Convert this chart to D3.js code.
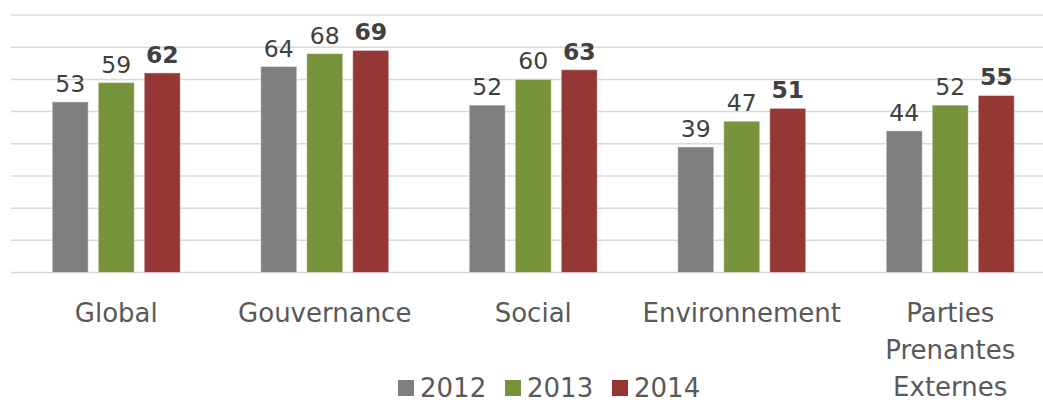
<!DOCTYPE html>
<html>
<head>
<meta charset="utf-8">
<script src="https://cdnjs.cloudflare.com/ajax/libs/d3/7.8.5/d3.min.js"></script>
<style>
  body { margin: 0; background: #fff; }
  svg { display: block; }
</style>
</head>
<body>
<script>
// data
var categories = ['Global', 'Gouvernance', 'Social', 'Environnement', 'Parties Prenantes Externes'];
var years = ['2012', '2013', '2014'];
var values2012 = [53, 64, 52, 39, 44];
var values2013 = [59, 68, 60, 47, 52];
var values2014 = [62, 69, 63, 51, 55];
var yTicks = [0, 10, 20, 30, 40, 50, 60, 70, 80];
var colors = ['#7f7f7f', '#77933c', '#953735'];

var width = 1043, height = 403;
var series = [values2012, values2013, values2014];

var svg = d3.select('body').append('svg')
    .attr('width', width)
    .attr('height', height);

var xScale = d3.scaleBand()
    .domain(categories)
    .range([12, 1054.5])
    .paddingInner(0)
    .paddingOuter(0);

var yScale = d3.scaleLinear()
    .domain([0, 80])
    .range([272.5, 15]);

// inner band for the 3 bars of a group
var barW = 36, barGap = 10;
var groupW = 3 * barW + 2 * barGap;
var xInner = d3.scaleBand()
    .domain(years)
    .range([0, groupW])
    .paddingInner(barGap / (barW + barGap))
    .paddingOuter(0);

// gridlines
svg.append('g')
    .selectAll('line')
    .data(yTicks)
    .enter().append('line')
    .attr('x1', 11)
    .attr('x2', width)
    .attr('y1', function (d) { return yScale(d); })
    .attr('y2', function (d) { return yScale(d); })
    .attr('stroke', '#d9d9d9')
    .attr('stroke-width', 1.5);

var groups = svg.append('g')
    .selectAll('g')
    .data(categories)
    .enter().append('g')
    .attr('transform', function (d) {
        return 'translate(' + (xScale(d) + (xScale.bandwidth() - groupW) / 2) + ',0)';
    });

groups.selectAll('rect')
    .data(function (d, i) {
        return years.map(function (y, j) { return { year: y, v: series[j][i], j: j }; });
    })
    .enter().append('rect')
    .attr('x', function (d) { return xInner(d.year); })
    .attr('width', xInner.bandwidth())
    .attr('y', function (d) { return yScale(d.v); })
    .attr('height', function (d) { return yScale(0) - yScale(d.v); })
    .attr('fill', function (d) { return colors[d.j]; })
    .attr('stroke', 'rgba(255,255,255,0.45)')
    .attr('stroke-width', 1);

groups.selectAll('text.val')
    .data(function (d, i) {
        return years.map(function (y, j) { return { year: y, v: series[j][i], j: j }; });
    })
    .enter().append('text')
    .attr('class', 'val')
    .attr('x', function (d) { return xInner(d.year) + xInner.bandwidth() / 2; })
    .attr('y', function (d) { return yScale(d.v) - 10; })
    .attr('text-anchor', 'middle')
    .style('font-family', 'DejaVu Sans')
    .style('font-size', '23.5px')
    .style('font-weight', function (d) { return d.j === 2 ? 'bold' : 'normal'; })
    .style('fill', '#404040')
    .text(function (d) { return d.v; });

// category labels
var catLabels = svg.append('g')
    .selectAll('text')
    .data(categories)
    .enter().append('text')
    .attr('x', function (d) { return xScale(d) + xScale.bandwidth() / 2; })
    .attr('y', 322)
    .attr('text-anchor', 'middle')
    .style('font-family', 'DejaVu Sans')
    .style('font-size', '26px')
    .style('fill', '#595959');

catLabels.each(function (d) {
    var words = d === 'Parties Prenantes Externes' ? d.split(' ') : [d];
    var t = d3.select(this);
    words.forEach(function (w, k) {
        t.append('tspan')
            .attr('x', xScale(d) + xScale.bandwidth() / 2)
            .attr('dy', k === 0 ? 0 : 37)
            .text(w);
    });
});

// legend
var legendX = [398, 505, 612];
var legend = svg.append('g')
    .selectAll('g')
    .data(years)
    .enter().append('g')
    .attr('transform', function (d, i) { return 'translate(' + legendX[i] + ',380)'; });

legend.append('rect')
    .attr('width', 16)
    .attr('height', 16)
    .attr('fill', function (d, i) { return colors[i]; });

legend.append('text')
    .attr('x', 22)
    .attr('y', 17)
    .style('font-family', 'DejaVu Sans')
    .style('font-size', '26px')
    .style('fill', '#595959')
    .text(function (d) { return d; });
</script>
</body>
</html>
